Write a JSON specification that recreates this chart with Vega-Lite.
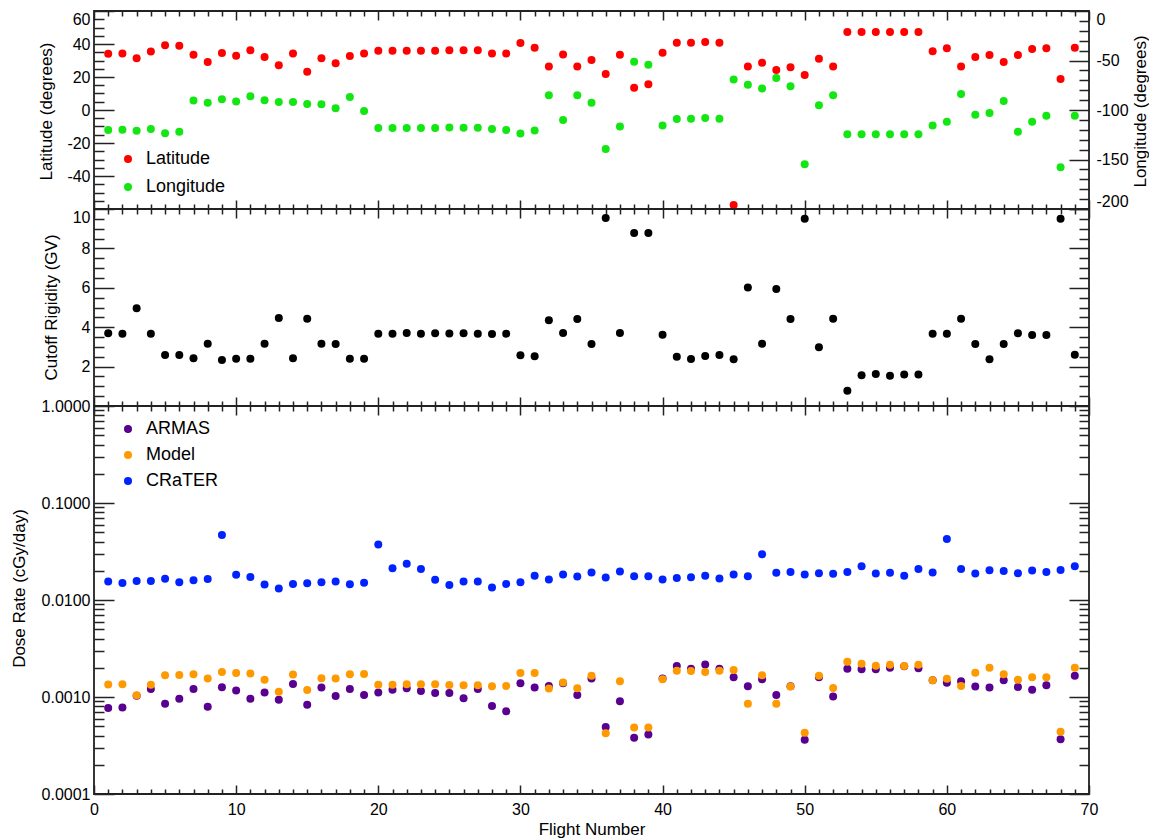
{
  "$schema": "https://vega.github.io/schema/vega-lite/v6.json",
  "background": "white",
  "padding": {"left": 9, "top": 9, "right": 2, "bottom": 2},
  "spacing": 0,
  "bounds": "flush",
  "config": {
    "font": "Liberation Sans",
    "view": {"stroke": "#222222", "strokeWidth": 1.8},
    "axis": {
      "grid": false, "domain": false, "ticks": true,
      "tickColor": "#222222", "tickWidth": 1.5,
      "labelColor": "black", "labelFont": "Liberation Sans", "labelFontSize": 16,
      "titleColor": "black", "titleFont": "Liberation Sans", "titleFontSize": 17, "titleFontWeight": "normal",
      "labelOverlap": false, "labelBound": false
    },
    "legend": {
      "orient": "none", "title": null, "padding": 0,
      "labelFont": "Liberation Sans", "labelFontSize": 18, "labelColor": "black",
      "symbolType": "circle", "symbolSize": 64, "symbolStrokeWidth": 0, "symbolOpacity": 1,
      "rowPadding": 10, "labelOffset": 9
    }
  },
  "datasets": {
    "flights": [
      {"flight": 1, "lat": 34.1, "lon": -120.3, "rigidity": 3.69, "ARMAS": 0.000769, "Model": 0.001343, "CRaTER": 0.01548},
      {"flight": 2, "lat": 34.3, "lon": -120.0, "rigidity": 3.67, "ARMAS": 0.000781, "Model": 0.00135, "CRaTER": 0.0150},
      {"flight": 3, "lat": 31.3, "lon": -121.0, "rigidity": 4.96, "ARMAS": 0.00103, "Model": 0.00104, "CRaTER": 0.01574},
      {"flight": 4, "lat": 35.5, "lon": -119.3, "rigidity": 3.67, "ARMAS": 0.00121, "Model": 0.00134, "CRaTER": 0.0157},
      {"flight": 5, "lat": 39.2, "lon": -123.4, "rigidity": 2.59, "ARMAS": 0.000853, "Model": 0.00168, "CRaTER": 0.01652},
      {"flight": 6, "lat": 39.0, "lon": -122.0, "rigidity": 2.59, "ARMAS": 0.000962, "Model": 0.00169, "CRaTER": 0.01524},
      {"flight": 7, "lat": 33.5, "lon": -90.5, "rigidity": 2.42, "ARMAS": 0.00121, "Model": 0.00172, "CRaTER": 0.0160},
      {"flight": 8, "lat": 29.1, "lon": -92.6, "rigidity": 3.16, "ARMAS": 0.000794, "Model": 0.00155, "CRaTER": 0.0165},
      {"flight": 9, "lat": 34.5, "lon": -89.2, "rigidity": 2.34, "ARMAS": 0.00126, "Model": 0.00181, "CRaTER": 0.0467},
      {"flight": 10, "lat": 32.9, "lon": -91.5, "rigidity": 2.40, "ARMAS": 0.001164, "Model": 0.00177, "CRaTER": 0.01816},
      {"flight": 11, "lat": 36.2, "lon": -86.1, "rigidity": 2.40, "ARMAS": 0.000962, "Model": 0.00175, "CRaTER": 0.0173},
      {"flight": 12, "lat": 32.1, "lon": -90.2, "rigidity": 3.16, "ARMAS": 0.00111, "Model": 0.00151, "CRaTER": 0.01442},
      {"flight": 13, "lat": 27.1, "lon": -91.9, "rigidity": 4.47, "ARMAS": 0.000938, "Model": 0.001135, "CRaTER": 0.01312},
      {"flight": 14, "lat": 34.3, "lon": -91.9, "rigidity": 2.42, "ARMAS": 0.001365, "Model": 0.00171, "CRaTER": 0.01466},
      {"flight": 15, "lat": 23.2, "lon": -93.9, "rigidity": 4.43, "ARMAS": 0.000834, "Model": 0.00118, "CRaTER": 0.01487},
      {"flight": 16, "lat": 31.3, "lon": -94.3, "rigidity": 3.16, "ARMAS": 0.00125, "Model": 0.00156, "CRaTER": 0.01524},
      {"flight": 17, "lat": 28.3, "lon": -98.3, "rigidity": 3.15, "ARMAS": 0.001026, "Model": 0.00155, "CRaTER": 0.01548},
      {"flight": 18, "lat": 32.7, "lon": -86.8, "rigidity": 2.40, "ARMAS": 0.00121, "Model": 0.00172, "CRaTER": 0.01452},
      {"flight": 19, "lat": 34.3, "lon": -101.0, "rigidity": 2.40, "ARMAS": 0.00105, "Model": 0.00173, "CRaTER": 0.0151},
      {"flight": 20, "lat": 35.9, "lon": -118.3, "rigidity": 3.67, "ARMAS": 0.00111, "Model": 0.00134, "CRaTER": 0.0374},
      {"flight": 21, "lat": 35.9, "lon": -118.3, "rigidity": 3.67, "ARMAS": 0.00119, "Model": 0.00134, "CRaTER": 0.0213},
      {"flight": 22, "lat": 35.9, "lon": -118.3, "rigidity": 3.71, "ARMAS": 0.00123, "Model": 0.00135, "CRaTER": 0.0236},
      {"flight": 23, "lat": 35.9, "lon": -118.3, "rigidity": 3.67, "ARMAS": 0.001156, "Model": 0.00135, "CRaTER": 0.0209},
      {"flight": 24, "lat": 35.9, "lon": -118.3, "rigidity": 3.69, "ARMAS": 0.0011, "Model": 0.00135, "CRaTER": 0.01614},
      {"flight": 25, "lat": 36.2, "lon": -117.6, "rigidity": 3.68, "ARMAS": 0.0011, "Model": 0.00133, "CRaTER": 0.0143},
      {"flight": 26, "lat": 36.2, "lon": -118.0, "rigidity": 3.69, "ARMAS": 0.00097, "Model": 0.00132, "CRaTER": 0.01548},
      {"flight": 27, "lat": 36.2, "lon": -118.0, "rigidity": 3.67, "ARMAS": 0.00121, "Model": 0.00132, "CRaTER": 0.01548},
      {"flight": 28, "lat": 34.3, "lon": -119.3, "rigidity": 3.65, "ARMAS": 0.000807, "Model": 0.00129, "CRaTER": 0.01343},
      {"flight": 29, "lat": 34.2, "lon": -120.3, "rigidity": 3.67, "ARMAS": 0.000711, "Model": 0.0013, "CRaTER": 0.01466},
      {"flight": 30, "lat": 40.6, "lon": -123.7, "rigidity": 2.57, "ARMAS": 0.00139, "Model": 0.00177, "CRaTER": 0.01524},
      {"flight": 31, "lat": 37.8, "lon": -120.6, "rigidity": 2.52, "ARMAS": 0.00125, "Model": 0.00177, "CRaTER": 0.01774},
      {"flight": 32, "lat": 26.3, "lon": -85.1, "rigidity": 4.35, "ARMAS": 0.0013, "Model": 0.00122, "CRaTER": 0.01626},
      {"flight": 33, "lat": 33.7, "lon": -110.2, "rigidity": 3.71, "ARMAS": 0.00139, "Model": 0.00141, "CRaTER": 0.01828},
      {"flight": 34, "lat": 26.3, "lon": -85.1, "rigidity": 4.42, "ARMAS": 0.00105, "Model": 0.00123, "CRaTER": 0.01746},
      {"flight": 35, "lat": 30.3, "lon": -92.6, "rigidity": 3.15, "ARMAS": 0.00155, "Model": 0.00166, "CRaTER": 0.0192},
      {"flight": 36, "lat": 21.8, "lon": -139.3, "rigidity": 9.54, "ARMAS": 0.00049, "Model": 0.000422, "CRaTER": 0.01702},
      {"flight": 37, "lat": 33.5, "lon": -116.6, "rigidity": 3.71, "ARMAS": 0.000904, "Model": 0.00145, "CRaTER": 0.01965},
      {"flight": 38, "lat": 13.5, "lon": -51.3, "rigidity": 8.78, "ARMAS": 0.00038, "Model": 0.000486, "CRaTER": 0.0176},
      {"flight": 39, "lat": 15.6, "lon": -54.3, "rigidity": 8.78, "ARMAS": 0.000411, "Model": 0.000486, "CRaTER": 0.0176},
      {"flight": 40, "lat": 34.7, "lon": -115.6, "rigidity": 3.62, "ARMAS": 0.00155, "Model": 0.00152, "CRaTER": 0.01626},
      {"flight": 41, "lat": 40.8, "lon": -109.1, "rigidity": 2.50, "ARMAS": 0.00209, "Model": 0.00186, "CRaTER": 0.0169},
      {"flight": 42, "lat": 40.8, "lon": -108.8, "rigidity": 2.39, "ARMAS": 0.00196, "Model": 0.00185, "CRaTER": 0.01715},
      {"flight": 43, "lat": 41.2, "lon": -108.1, "rigidity": 2.54, "ARMAS": 0.00216, "Model": 0.00181, "CRaTER": 0.01774},
      {"flight": 44, "lat": 40.8, "lon": -108.8, "rigidity": 2.59, "ARMAS": 0.00196, "Model": 0.00186, "CRaTER": 0.01664},
      {"flight": 45, "lat": -57.6, "lon": -69.2, "rigidity": 2.37, "ARMAS": 0.0016, "Model": 0.0019, "CRaTER": 0.01828},
      {"flight": 46, "lat": 26.3, "lon": -74.6, "rigidity": 6.01, "ARMAS": 0.00129, "Model": 0.000853, "CRaTER": 0.0176},
      {"flight": 47, "lat": 28.7, "lon": -78.3, "rigidity": 3.16, "ARMAS": 0.00152, "Model": 0.00168, "CRaTER": 0.02965},
      {"flight": 48, "lat": 24.2, "lon": -67.8, "rigidity": 5.94, "ARMAS": 0.00105, "Model": 0.00085, "CRaTER": 0.01905},
      {"flight": 49, "lat": 25.9, "lon": -76.0, "rigidity": 4.42, "ARMAS": 0.00129, "Model": 0.00128, "CRaTER": 0.0194},
      {"flight": 50, "lat": 21.2, "lon": -154.8, "rigidity": 9.51, "ARMAS": 0.000362, "Model": 0.000428, "CRaTER": 0.01828},
      {"flight": 51, "lat": 31.1, "lon": -95.3, "rigidity": 2.98, "ARMAS": 0.0016, "Model": 0.00166, "CRaTER": 0.0189},
      {"flight": 52, "lat": 26.3, "lon": -85.1, "rigidity": 4.43, "ARMAS": 0.00101, "Model": 0.00124, "CRaTER": 0.0186},
      {"flight": 53, "lat": 47.3, "lon": -124.4, "rigidity": 0.78, "ARMAS": 0.00195, "Model": 0.00231, "CRaTER": 0.0194},
      {"flight": 54, "lat": 47.3, "lon": -124.4, "rigidity": 1.56, "ARMAS": 0.00193, "Model": 0.0022, "CRaTER": 0.0223},
      {"flight": 55, "lat": 47.3, "lon": -124.4, "rigidity": 1.62, "ARMAS": 0.00193, "Model": 0.0021, "CRaTER": 0.0188},
      {"flight": 56, "lat": 47.3, "lon": -124.4, "rigidity": 1.54, "ARMAS": 0.002, "Model": 0.00215, "CRaTER": 0.0191},
      {"flight": 57, "lat": 47.3, "lon": -124.4, "rigidity": 1.60, "ARMAS": 0.00207, "Model": 0.00209, "CRaTER": 0.01774},
      {"flight": 58, "lat": 47.3, "lon": -124.4, "rigidity": 1.60, "ARMAS": 0.00198, "Model": 0.00215, "CRaTER": 0.0209},
      {"flight": 59, "lat": 35.6, "lon": -115.6, "rigidity": 3.67, "ARMAS": 0.00149, "Model": 0.00149, "CRaTER": 0.0192},
      {"flight": 60, "lat": 37.4, "lon": -111.8, "rigidity": 3.67, "ARMAS": 0.0014, "Model": 0.00154, "CRaTER": 0.0425},
      {"flight": 61, "lat": 26.3, "lon": -83.8, "rigidity": 4.43, "ARMAS": 0.00145, "Model": 0.0013, "CRaTER": 0.0209},
      {"flight": 62, "lat": 32.1, "lon": -104.7, "rigidity": 3.15, "ARMAS": 0.00128, "Model": 0.00178, "CRaTER": 0.0188},
      {"flight": 63, "lat": 33.3, "lon": -103.0, "rigidity": 2.37, "ARMAS": 0.00125, "Model": 0.002, "CRaTER": 0.0203},
      {"flight": 64, "lat": 29.1, "lon": -90.9, "rigidity": 3.15, "ARMAS": 0.00149, "Model": 0.00172, "CRaTER": 0.0199},
      {"flight": 65, "lat": 33.3, "lon": -122.0, "rigidity": 3.69, "ARMAS": 0.00127, "Model": 0.00151, "CRaTER": 0.0189},
      {"flight": 66, "lat": 37.0, "lon": -111.8, "rigidity": 3.60, "ARMAS": 0.00119, "Model": 0.0016, "CRaTER": 0.0201},
      {"flight": 67, "lat": 37.4, "lon": -105.8, "rigidity": 3.60, "ARMAS": 0.00132, "Model": 0.0016, "CRaTER": 0.0194},
      {"flight": 68, "lat": 18.8, "lon": -157.9, "rigidity": 9.51, "ARMAS": 0.000367, "Model": 0.000438, "CRaTER": 0.0204},
      {"flight": 69, "lat": 37.8, "lon": -105.8, "rigidity": 2.60, "ARMAS": 0.00166, "Model": 0.002, "CRaTER": 0.0223}
    ]
  },
  "vconcat": [
    {
      "width": 995, "height": 198,
      "data": {"name": "flights"},
      "layer": [
        {
          "mark": {"type": "point", "filled": true, "size": 64, "opacity": 1},
          "encoding": {
            "x": {"field": "flight", "type": "quantitative", "scale": {"domain": [0, 70], "nice": false, "zero": false},
              "axis": {"orient": "bottom", "title": null, "labels": false, "values": [0,1,2,3,4,5,6,7,8,9,10,11,12,13,14,15,16,17,18,19,20,21,22,23,24,25,26,27,28,29,30,31,32,33,34,35,36,37,38,39,40,41,42,43,44,45,46,47,48,49,50,51,52,53,54,55,56,57,58,59,60,61,62,63,64,65,66,67,68,69,70],
                "tickSize": {"condition": {"test": "datum.value % 10 === 0", "value": -9}, "value": -5}}},
            "y": {"field": "lat", "type": "quantitative", "scale": {"domain": [-60, 60], "nice": false, "zero": false},
              "axis": {"orient": "left", "values": [-55,-50,-45,-40,-35,-30,-25,-20,-15,-10,-5,0,5,10,15,20,25,30,35,40,45,50,55,60],
                "labelExpr": "datum.value % 20 === 0 ? replace(datum.label, '\u2212', '-') : ''",
                "labelFlush": 3, "labelPadding": 24,
                "tickSize": {"condition": {"test": "datum.value % 20 === 0", "value": -20}, "value": -10},
                "title": "Latitude (degrees)", "titleX": -48, "titleY": 100, "titleAngle": 270, "titleBaseline": "middle", "titleAlign": "center"}},
            "color": {"datum": "Latitude", "type": "nominal",
              "scale": {"domain": ["Latitude", "Longitude"], "range": ["#ff0000", "#14e614"]},
              "legend": {"legendX": 25, "legendY": 139}}
          }
        },
        {
          "mark": {"type": "point", "filled": true, "size": 64, "opacity": 1},
          "encoding": {
            "x": {"field": "flight", "type": "quantitative", "scale": {"domain": [0, 70], "nice": false, "zero": false},
              "axis": {"orient": "top", "title": null, "labels": false, "values": [0,1,2,3,4,5,6,7,8,9,10,11,12,13,14,15,16,17,18,19,20,21,22,23,24,25,26,27,28,29,30,31,32,33,34,35,36,37,38,39,40,41,42,43,44,45,46,47,48,49,50,51,52,53,54,55,56,57,58,59,60,61,62,63,64,65,66,67,68,69,70],
                "tickSize": {"condition": {"test": "datum.value % 10 === 0", "value": -9}, "value": -5}}},
            "y": {"field": "lon", "type": "quantitative", "scale": {"domain": [-200, 0], "nice": false, "zero": false},
              "axis": {"orient": "right", "values": [-200,-190,-180,-170,-160,-150,-140,-130,-120,-110,-100,-90,-80,-70,-60,-50,-40,-30,-20,-10,0],
                "labelExpr": "datum.value % 50 === 0 ? replace(datum.label, '\u2212', '-') : ''",
                "labelFlush": 3, "labelPadding": 27,
                "tickSize": {"condition": {"test": "datum.value % 50 === 0", "value": -20}, "value": -10},
                "title": "Longitude (degrees)", "titleX": 51, "titleY": 100, "titleAngle": 270, "titleBaseline": "middle", "titleAlign": "center"}},
            "color": {"datum": "Longitude", "type": "nominal"}
          }
        }
      ],
      "resolve": {"scale": {"y": "independent"}, "axis": {"x": "independent", "y": "independent"}}
    },
    {
      "width": 995, "height": 197,
      "data": {"name": "flights"},
      "layer": [
        {
          "mark": {"type": "point", "filled": true, "size": 64, "opacity": 1, "color": "black"},
          "encoding": {
            "x": {"field": "flight", "type": "quantitative", "scale": {"domain": [0, 70], "nice": false, "zero": false},
              "axis": {"orient": "bottom", "title": null, "labels": false, "values": [0,1,2,3,4,5,6,7,8,9,10,11,12,13,14,15,16,17,18,19,20,21,22,23,24,25,26,27,28,29,30,31,32,33,34,35,36,37,38,39,40,41,42,43,44,45,46,47,48,49,50,51,52,53,54,55,56,57,58,59,60,61,62,63,64,65,66,67,68,69,70],
                "tickSize": {"condition": {"test": "datum.value % 10 === 0", "value": -9}, "value": -5}}},
            "y": {"field": "rigidity", "type": "quantitative", "scale": {"domain": [0, 10], "nice": false, "zero": false},
              "axis": {"orient": "left", "values": [0.5,1,1.5,2,2.5,3,3.5,4,4.5,5,5.5,6,6.5,7,7.5,8,8.5,9,9.5,10],
                "labelExpr": "datum.value % 2 === 0 ? '' + datum.value : ''",
                "labelFlush": 3, "labelPadding": 24,
                "tickSize": {"condition": {"test": "datum.value % 2 === 0", "value": -20}, "value": -10},
                "title": "Cutoff Rigidity (GV)", "titleX": -43, "titleY": 98, "titleAngle": 270, "titleBaseline": "middle", "titleAlign": "center"}}
          }
        },
        {
          "mark": {"type": "point", "filled": true, "size": 64, "opacity": 0, "color": "black"},
          "encoding": {
            "x": {"field": "flight", "type": "quantitative", "scale": {"domain": [0, 70], "nice": false, "zero": false},
              "axis": {"orient": "top", "title": null, "labels": false, "values": [0,1,2,3,4,5,6,7,8,9,10,11,12,13,14,15,16,17,18,19,20,21,22,23,24,25,26,27,28,29,30,31,32,33,34,35,36,37,38,39,40,41,42,43,44,45,46,47,48,49,50,51,52,53,54,55,56,57,58,59,60,61,62,63,64,65,66,67,68,69,70],
                "tickSize": {"condition": {"test": "datum.value % 10 === 0", "value": -9}, "value": -5}}},
            "y": {"field": "rigidity", "type": "quantitative", "scale": {"domain": [0, 10], "nice": false, "zero": false},
              "axis": {"orient": "right", "title": null, "labels": false, "values": [0.5,1,1.5,2,2.5,3,3.5,4,4.5,5,5.5,6,6.5,7,7.5,8,8.5,9,9.5,10],
                "tickSize": {"condition": {"test": "datum.value % 2 === 0", "value": -20}, "value": -10}}}
          }
        }
      ],
      "resolve": {"axis": {"x": "independent", "y": "independent"}}
    },
    {
      "width": 995, "height": 388,
      "data": {"name": "flights"},
      "transform": [{"fold": ["ARMAS", "Model", "CRaTER"], "as": ["series", "dose"]}],
      "layer": [
        {
          "mark": {"type": "point", "filled": true, "size": 64, "opacity": 1},
          "encoding": {
            "x": {"field": "flight", "type": "quantitative", "scale": {"domain": [0, 70], "nice": false, "zero": false},
              "axis": {"orient": "bottom", "values": [0,1,2,3,4,5,6,7,8,9,10,11,12,13,14,15,16,17,18,19,20,21,22,23,24,25,26,27,28,29,30,31,32,33,34,35,36,37,38,39,40,41,42,43,44,45,46,47,48,49,50,51,52,53,54,55,56,57,58,59,60,61,62,63,64,65,66,67,68,69,70],
                "labelExpr": "datum.value % 10 === 0 ? datum.label : ''", "labelFlush": false, "labelPadding": 16,
                "tickSize": {"condition": {"test": "datum.value % 10 === 0", "value": -9}, "value": -5},
                "title": "Flight Number", "titleX": 497.5, "titleY": 35, "titleBaseline": "middle", "titleAlign": "center"}},
            "y": {"field": "dose", "type": "quantitative", "scale": {"type": "log", "domain": [0.0001, 1], "nice": false},
              "axis": {"orient": "left", "values": [0.0001,0.0002,0.0003,0.0004,0.0005,0.0006,0.0007,0.0008,0.0009,0.001,0.002,0.003,0.004,0.005,0.006,0.007,0.008,0.009,0.01,0.02,0.03,0.04,0.05,0.06,0.07,0.08,0.09,0.1,0.2,0.3,0.4,0.5,0.6,0.7,0.8,0.9,1],
                "labelExpr": "abs(log(datum.value)/LN10 - round(log(datum.value)/LN10)) < 0.001 ? format(datum.value, '.4f') : ''",
                "labelFlush": false, "labelPadding": 24,
                "tickSize": {"condition": {"test": "abs(log(datum.value)/LN10 - round(log(datum.value)/LN10)) < 0.001", "value": -20}, "value": -10},
                "title": "Dose Rate (cGy/day)", "titleX": -75, "titleY": 182, "titleAngle": 270, "titleBaseline": "middle", "titleAlign": "center"}},
            "color": {"field": "series", "type": "nominal",
              "scale": {"domain": ["ARMAS", "Model", "CRaTER"], "range": ["#58008f", "#ff9900", "#0022ff"]},
              "legend": {"legendX": 25, "legendY": 14, "rowPadding": 8}}
          }
        },
        {
          "mark": {"type": "point", "filled": true, "size": 64, "opacity": 0},
          "encoding": {
            "x": {"field": "flight", "type": "quantitative", "scale": {"domain": [0, 70], "nice": false, "zero": false},
              "axis": {"orient": "top", "title": null, "labels": false, "values": [0,1,2,3,4,5,6,7,8,9,10,11,12,13,14,15,16,17,18,19,20,21,22,23,24,25,26,27,28,29,30,31,32,33,34,35,36,37,38,39,40,41,42,43,44,45,46,47,48,49,50,51,52,53,54,55,56,57,58,59,60,61,62,63,64,65,66,67,68,69,70],
                "tickSize": {"condition": {"test": "datum.value % 10 === 0", "value": -9}, "value": -5}}},
            "y": {"field": "dose", "type": "quantitative", "scale": {"type": "log", "domain": [0.0001, 1], "nice": false},
              "axis": {"orient": "right", "title": null, "labels": false, "values": [0.0001,0.0002,0.0003,0.0004,0.0005,0.0006,0.0007,0.0008,0.0009,0.001,0.002,0.003,0.004,0.005,0.006,0.007,0.008,0.009,0.01,0.02,0.03,0.04,0.05,0.06,0.07,0.08,0.09,0.1,0.2,0.3,0.4,0.5,0.6,0.7,0.8,0.9,1],
                "tickSize": {"condition": {"test": "abs(log(datum.value)/LN10 - round(log(datum.value)/LN10)) < 0.001", "value": -20}, "value": -10}}}
          }
        }
      ],
      "resolve": {"axis": {"x": "independent", "y": "independent"}}
    }
  ],
  "resolve": {"scale": {"color": "independent"}, "legend": {"color": "independent"}}
}
